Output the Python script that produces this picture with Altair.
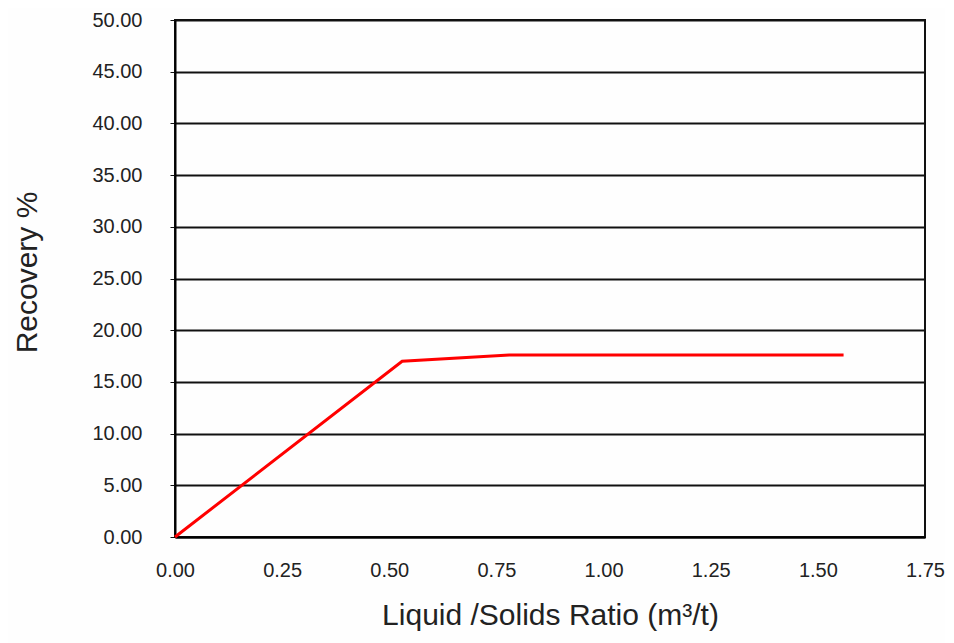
import altair as alt
import pandas as pd

ratio = [0.0, 0.53, 0.78, 1.56]
recovery = [0.0, 17.0, 17.6, 17.6]

df = pd.DataFrame({"ratio": ratio, "recovery": recovery})

chart = alt.Chart(df).mark_line(color="#ff0000", strokeWidth=3).encode(
    x=alt.X("ratio:Q",
            scale=alt.Scale(domain=[0, 1.75], nice=False, zero=True),
            axis=alt.Axis(values=[0, 0.25, 0.5, 0.75, 1.0, 1.25, 1.5, 1.75], format=".2f",
                          title="Liquid /Solids Ratio (m³/t)", grid=False, ticks=False,
                          labelPadding=23, titlePadding=20, domainColor="#000",
                          labelAlign="center", labelFlush=False)),
    y=alt.Y("recovery:Q",
            scale=alt.Scale(domain=[0, 50], nice=False),
            axis=alt.Axis(values=list(range(0, 55, 5)), format=".2f", title="Recovery %",
                          grid=True, gridColor="#111", gridWidth=2, tickColor="#111",
                          tickSize=5, labelPadding=28, titlePadding=49, titleY=252,
                          domainColor="#000")),
).properties(
    width=750, height=517,
    autosize=alt.AutoSizeParams(type="none"),
    padding={"left": 167, "top": 12, "right": 20, "bottom": 106},
    background="#fefefe",
).configure_view(
    stroke="#111", strokeWidth=2
).configure_axis(
    labelFont="Liberation Sans", titleFont="Liberation Sans",
    labelFontSize=20, titleFontSize=30, titleFontWeight="normal",
    labelColor="#222", titleColor="#222", domainWidth=2,
)

chart.save("out.html", embed_options={"renderer": "svg", "actions": False})
